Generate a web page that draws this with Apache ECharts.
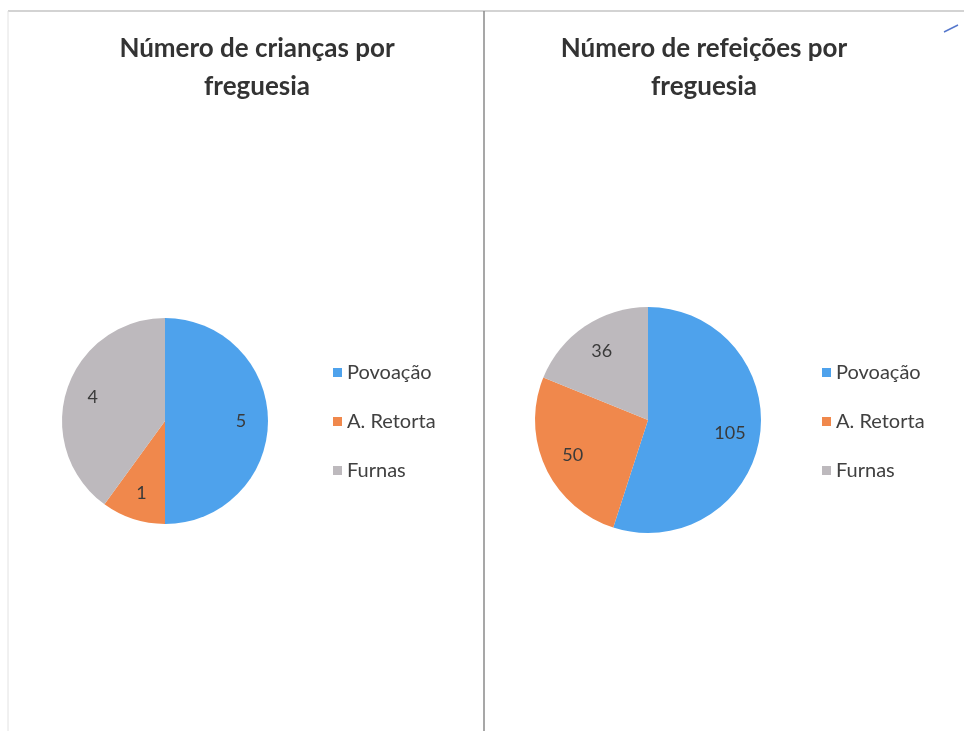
<!DOCTYPE html>
<html>
<head>
<meta charset="utf-8">
<script src="https://cdn.jsdelivr.net/npm/echarts@6/dist/echarts.min.js"></script>
<style>
  html, body { margin: 0; padding: 0; background: #fff; }
  #chart { width: 964px; height: 731px; }
</style>
</head>
<body>
<div id="chart"></div>
<script>
// dados
const freguesias = ['Povoação', 'A. Retorta', 'Furnas']
const criancas = [5, 1, 4]
const refeicoes = [105, 50, 36]
const titulos = ['Número de crianças por\nfreguesia', 'Número de refeições por\nfreguesia']
const cores = ['#4ea2ec', '#f0884c', '#bdb9bd']

const font = 'Lato, "Open Sans", sans-serif'

function toData(values) {
  return freguesias.map((n, i) => ({ name: n, value: values[i] }))
}

function pieSeries(values, center, r) {
  return [
    {
      type: 'pie',
      center: center,
      radius: [0, r],
      startAngle: 90,
      clockwise: true,
      label: { show: false },
      labelLine: { show: false },
      silent: true,
      data: toData(values)
    },
    {
      // só para colocar os rótulos a ~70% do raio
      type: 'pie',
      center: center,
      radius: [Math.round(r * 0.42), r],
      startAngle: 90,
      clockwise: true,
      silent: true,
      itemStyle: { color: 'rgba(0,0,0,0)' },
      label: {
        show: true,
        position: 'inside',
        formatter: '{c}',
        color: '#3a3a3a',
        fontSize: 18,
        fontFamily: font
      },
      labelLine: { show: false },
      data: toData(values)
    }
  ]
}

function legend(left) {
  return {
    data: freguesias,
    orient: 'vertical',
    left: left,
    top: 357,
    itemWidth: 9,
    itemHeight: 9,
    itemGap: 28,
    icon: 'rect',
    selectedMode: false,
    textStyle: { fontSize: 20, color: '#404040', fontFamily: font, lineHeight: 21 }
  }
}

let myChart = echarts.init(document.getElementById('chart'))
let option = {
  backgroundColor: '#fff',
  color: cores,
  animation: false,
  title: [
    {
      text: titulos[0], left: 252, top: 25, textAlign: 'center',
      textStyle: { fontSize: 26, fontWeight: 'bold', color: '#333', fontFamily: font, lineHeight: 38 }
    },
    {
      text: titulos[1], left: 699, top: 25, textAlign: 'center',
      textStyle: { fontSize: 26, fontWeight: 'bold', color: '#333', fontFamily: font, lineHeight: 38 }
    }
  ],
  legend: [legend(328), legend(817)],
  series: [
    ...pieSeries(criancas, [165, 421], 103),
    ...pieSeries(refeicoes, [648, 420], 113)
  ],
  graphic: [
    { type: 'line', shape: { x1: 8, y1: 11, x2: 964, y2: 11 }, style: { stroke: '#c4c4c4', lineWidth: 1.5 } },
    { type: 'line', shape: { x1: 8, y1: 11, x2: 8, y2: 731 }, style: { stroke: '#e2e2e2', lineWidth: 1 } },
    { type: 'line', shape: { x1: 484, y1: 11, x2: 484, y2: 731 }, style: { stroke: '#8a8a8a', lineWidth: 1.5 } },
    { type: 'line', shape: { x1: 944, y1: 32, x2: 958, y2: 25 }, style: { stroke: '#5577cc', lineWidth: 1.5 } }
  ]
}
myChart.setOption(option)
</script>
</body>
</html>
